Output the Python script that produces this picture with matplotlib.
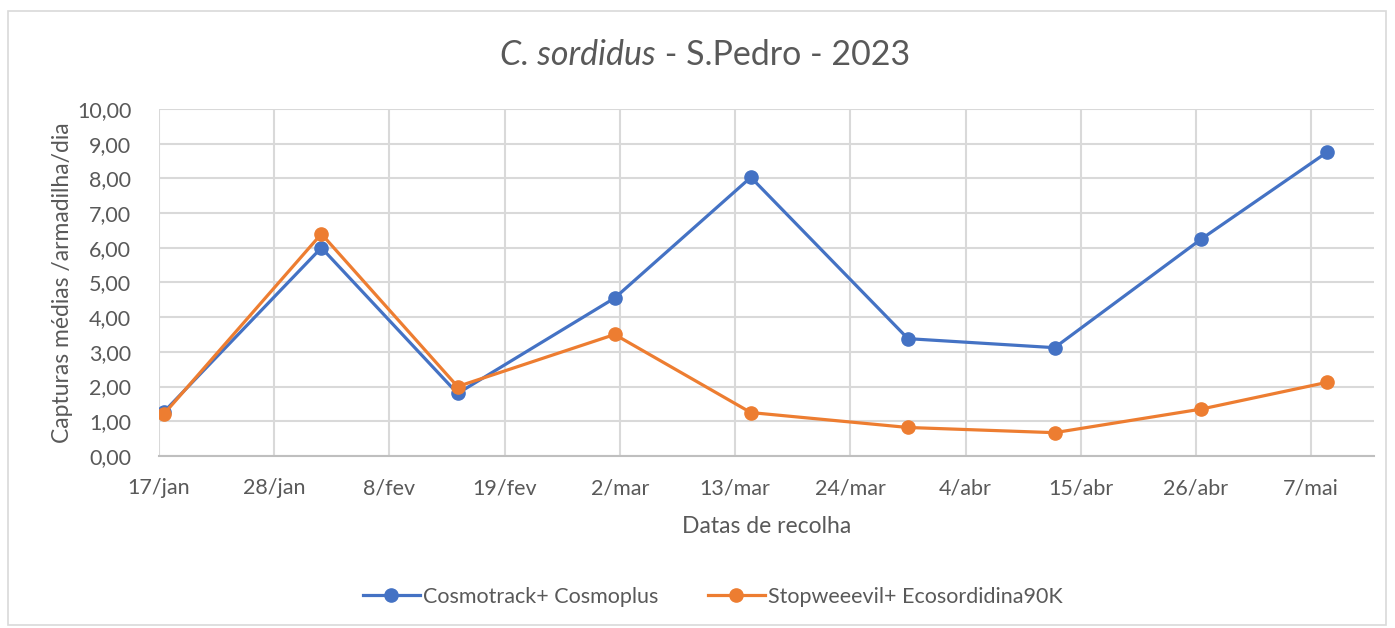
import numpy as np
import matplotlib
matplotlib.use("Agg")
import matplotlib.pyplot as plt
import matplotlib.dates as mdates
from matplotlib.patches import Rectangle
from matplotlib.ticker import FixedLocator, FuncFormatter

plt.rcParams['font.family'] = ['Lato', 'DejaVu Sans']

# datas de recolha
datas = np.array(['2023-01-17', '2023-02-01', '2023-02-14', '2023-03-01', '2023-03-14',
                  '2023-03-29', '2023-04-12', '2023-04-26', '2023-05-08'], dtype='datetime64[D]')

cosmotrack = [1.28, 6.00, 1.80, 4.55, 8.03, 3.38, 3.12, 6.25, 8.75]
stopweeevil = [1.22, 6.40, 2.00, 3.50, 1.25, 0.82, 0.67, 1.35, 2.12]

nomes = ["Cosmotrack+ Cosmoplus", "Stopweeevil+ Ecosordidina90K"]
meses = ["jan", "fev", "mar", "abr", "mai", "jun"]

azul = "#4472C4"
laranja = "#ED7D31"
cinza = "#595959"

fig = plt.figure(figsize=(13.95, 6.28), dpi=100)
ax = fig.add_axes([0.114, 0.274, 0.871, 0.5525])

# pontos no meio do dia (eixo de datas do Excel)
x = mdates.date2num(datas) + 0.5
ax.plot(x, cosmotrack, color=azul, lw=2.3, marker='o', ms=9.5, label=nomes[0], zorder=3)
ax.plot(x, stopweeevil, color=laranja, lw=2.3, marker='o', ms=9.5, label=nomes[1], zorder=4)

inicio = mdates.date2num(np.datetime64('2023-01-17'))
ax.set_xlim(inicio, inicio + 116)
ax.set_ylim(0, 10)

ticks_x = inicio + np.arange(0, 111, 11)
ax.xaxis.set_major_locator(FixedLocator(ticks_x))

def fmt_data(v, pos):
    d = mdates.num2date(v)
    return f"{d.day}/{meses[d.month - 1]}"

ax.xaxis.set_major_formatter(FuncFormatter(fmt_data))
ax.set_yticks(np.arange(0, 11, 1))
ax.yaxis.set_major_formatter(FuncFormatter(lambda v, p: f"{v:.2f}".replace('.', ',')))

ax.grid(True, color="#d9d9d9", lw=1.5)
ax.set_axisbelow(True)
for s in ['top', 'right', 'left']:
    ax.spines[s].set_visible(False)
ax.spines['bottom'].set_color("#bfbfbf")
ax.spines['bottom'].set_linewidth(1.5)
ax.tick_params(length=0, labelsize=15.5, colors=cinza)
ax.tick_params(axis='y', pad=20)
ax.tick_params(axis='x', pad=16)

ax.set_xlabel("Datas de recolha", fontsize=16.5, color=cinza, labelpad=13)
ax.set_ylabel("Capturas médias /armadilha/dia", fontsize=16.5, color=cinza, labelpad=3)

# titulo com parte em italico
t1 = fig.text(0.0, 0.912, "C. sordidus", fontsize=24.5, color=cinza, style='italic', va='center')
t2 = fig.text(0.0, 0.912, " - S.Pedro - 2023", fontsize=24.5, color=cinza, va='center')
fig.canvas.draw()
r = fig.canvas.get_renderer()
w1 = t1.get_window_extent(r).width / fig.bbox.width
w2 = t2.get_window_extent(r).width / fig.bbox.width
x0 = 0.5055 - (w1 + w2) / 2
t1.set_x(x0)
t2.set_x(x0 + w1)

fig.legend(loc='center', bbox_to_anchor=(0.511, 0.05), ncol=2, frameon=False,
           fontsize=15.5, labelcolor=cinza, handlelength=2.65, handletextpad=0.15,
           columnspacing=2.3)

fig.add_artist(Rectangle((8 / 1395, 3 / 628), 1378 / 1395, 614 / 628, transform=fig.transFigure,
                         fill=False, edgecolor="#d9d9d9", lw=1.2))

fig.savefig("out.png", dpi=100)
